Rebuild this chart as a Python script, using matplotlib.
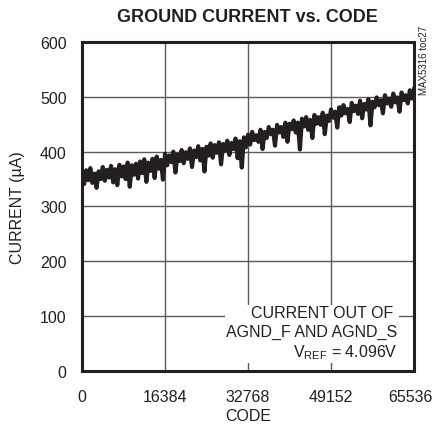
import matplotlib.pyplot as plt
import matplotlib.transforms as mtransforms
import numpy as np

# values (uA), evenly spaced over the code range
current = [
    357, 341, 366, 348, 370, 343, 360, 334, 364, 350, 372, 347, 367, 353, 374, 344, 368, 339, 376, 355,
    373, 350, 380, 336, 375, 358, 378, 351, 382, 361, 386, 345, 380, 365, 387, 352, 391, 369, 385, 349,
    396, 375, 393, 381, 400, 362, 395, 383, 403, 379, 399, 387, 406, 372, 402, 390, 410, 384, 405, 364,
    409, 393, 415, 389, 412, 398, 417, 377, 414, 402, 420, 394, 416, 405, 424, 388, 419, 371, 426, 408,
    431, 413, 436, 421, 430, 418, 440, 405, 436, 425, 445, 432, 440, 411, 449, 435, 445, 427, 453, 418,
    451, 441, 457, 435, 453, 404, 460, 446, 463, 440, 458, 425, 467, 451, 463, 449, 471, 432, 466, 456,
    477, 462, 473, 444, 481, 466, 485, 470, 478, 454, 489, 474, 484, 469, 493, 461, 487, 477, 496, 448,
    491, 481, 499, 485, 494, 470, 503, 488, 497, 482, 506, 490, 499, 473, 508, 494, 503, 488, 512, 497,
    514,
]
x_ticks = [0, 16384, 32768, 49152, 65536]
y_ticks = [0, 100, 200, 300, 400, 500, 600]

FONT = ['Liberation Sans', 'DejaVu Sans']
INK = '#231f20'


def main() -> None:
    plt.rcParams['font.family'] = FONT
    plt.rcParams['mathtext.fontset'] = 'custom'
    plt.rcParams['mathtext.rm'] = 'Liberation Sans'

    code = np.linspace(0, 65536, len(current))

    fig = plt.figure(figsize=(4.34, 4.35), dpi=100)
    ax = fig.add_axes([0.189, 0.145, 0.765, 0.756])

    ax.plot(code, current, color=INK, linewidth=3.0, zorder=3)

    ax.set_xlim(0, 65536)
    ax.set_ylim(0, 600)
    ax.set_xticks(x_ticks)
    ax.set_yticks(y_ticks)
    ax.tick_params(length=0, labelsize=11.5, colors=INK)
    ax.tick_params(axis='x', pad=13)
    ax.tick_params(axis='y', pad=11)
    ax.grid(True, color='#5a5a5c', linewidth=1.0)
    for s in ax.spines.values():
        s.set_linewidth(2.2)
        s.set_color(INK)
        s.set_zorder(4)

    # keep the last code label inside the figure
    last = ax.get_xticklabels()[-1]
    last.set_transform(last.get_transform()
                       + mtransforms.ScaledTranslation(-4 / 100, 0, fig.dpi_scale_trans))

    ax.set_xlabel('CODE', fontsize=11.5, color=INK, labelpad=3)
    ax.set_ylabel('CURRENT (\u00b5A)', fontsize=11.5, color=INK, labelpad=11)
    fig.text(0.571, 0.96, 'GROUND CURRENT vs. CODE', ha='center', va='center',
             fontsize=13, fontweight='bold', color=INK)
    fig.text(0.978, 0.86, 'MAX5316 toc27', rotation=90, ha='center', va='center',
             fontsize=7, color=INK)

    ax.text(0.95, 0.115, 'CURRENT OUT OF \nAGND_F AND AGND_S\n'
            r'V$_{\mathrm{REF}}$ = 4.096V',
            transform=ax.transAxes, ha='right', va='center', fontsize=11.5,
            color=INK, linespacing=1.3, zorder=5,
            bbox=dict(facecolor='white', edgecolor='none', pad=1))

    fig.savefig('out.png', dpi=100)


if __name__ == "__main__":
    main()
